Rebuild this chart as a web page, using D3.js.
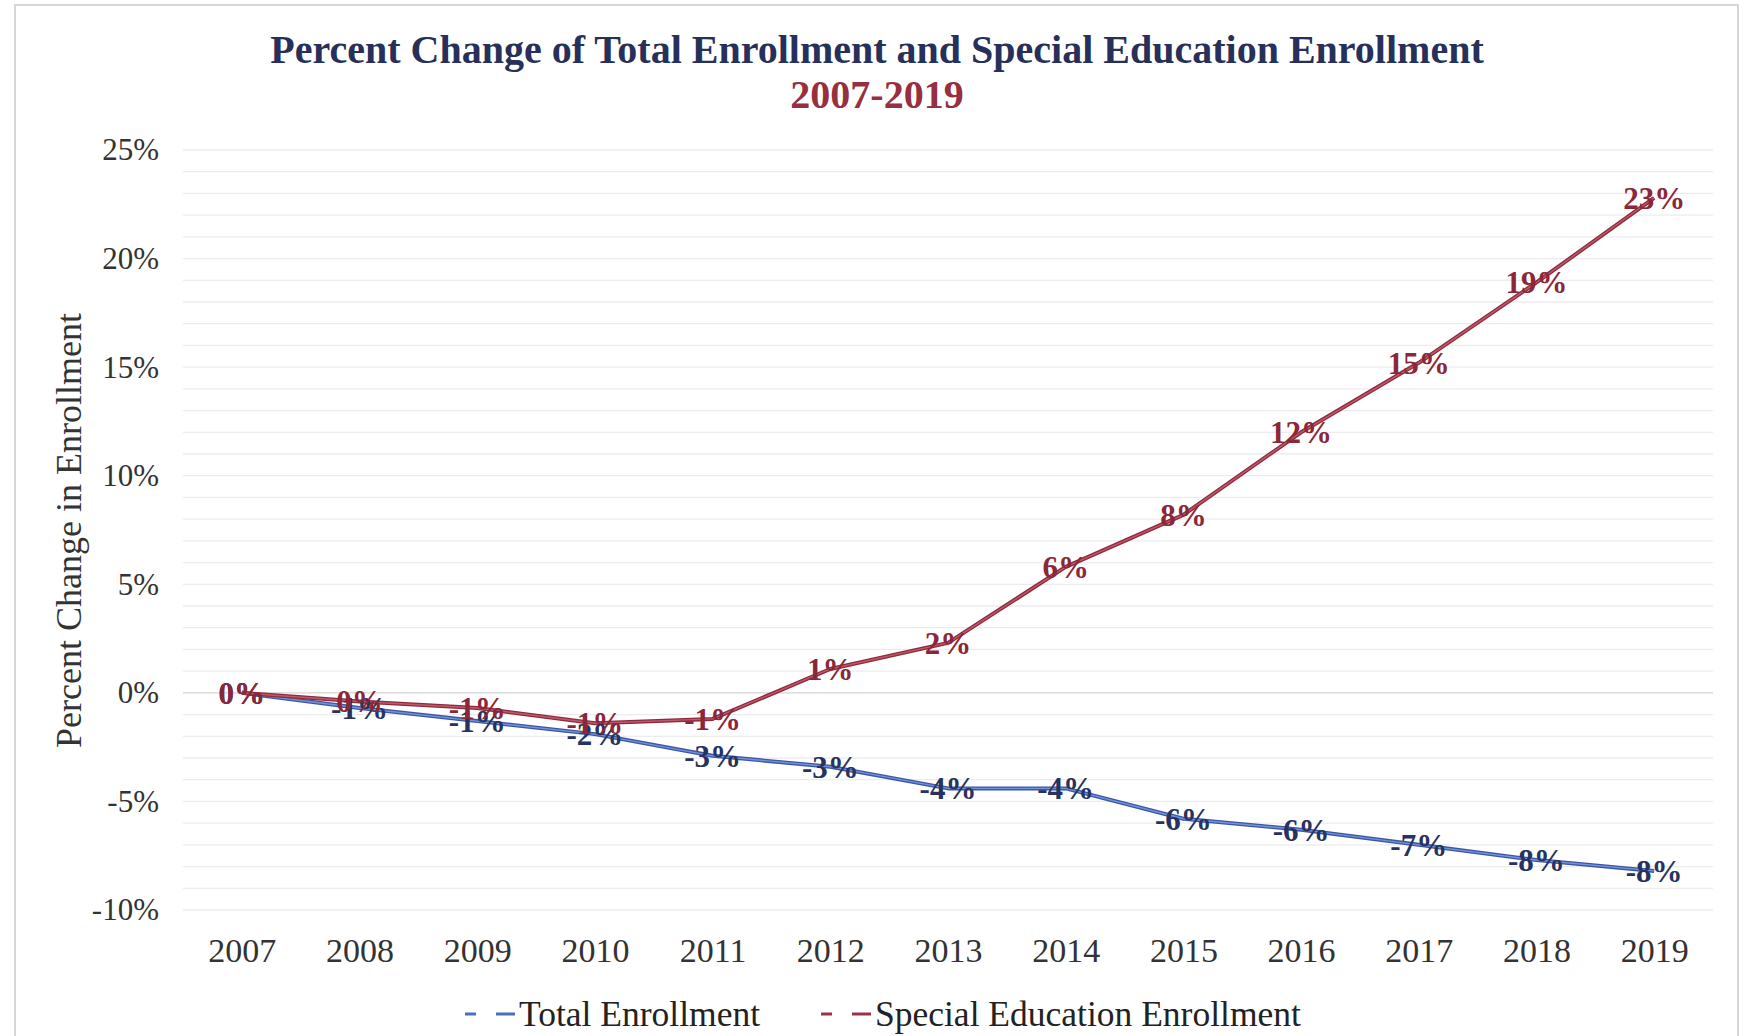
<!DOCTYPE html>
<html>
<head>
<meta charset="utf-8">
<script src="https://cdn.jsdelivr.net/npm/d3@7"></script>
<style>
  html, body { margin: 0; padding: 0; background: #ffffff; }
  svg { display: block; }
</style>
</head>
<body>
<svg id="chart" width="1744" height="1036"></svg>
<script>
// ---- data ----
const years = ["2007","2008","2009","2010","2011","2012","2013","2014","2015","2016","2017","2018","2019"];
const totalEnrollment = [0.000, -0.007, -0.013, -0.019, -0.029, -0.034, -0.044, -0.044, -0.058, -0.063, -0.070, -0.077, -0.082];
const specialEdEnrollment = [0.000, -0.004, -0.007, -0.014, -0.012, 0.011, 0.023, 0.058, 0.082, 0.120, 0.152, 0.189, 0.228];
const yTicks = [-0.10, -0.05, 0, 0.05, 0.10, 0.15, 0.20, 0.25];
const seriesNames = ["Total Enrollment", "Special Education Enrollment"];
const titleLine1 = "Percent Change of Total Enrollment and Special Education Enrollment";
const titleLine2 = "2007-2019";
const yAxisTitle = "Percent Change in Enrollment";

// ---- layout ----
const W = 1744, H = 1036;
const plot = { left: 183, right: 1713, top: 150, bottom: 910 };
const svg = d3.select("#chart");
const serif = "'Liberation Serif', 'Times New Roman', serif";

// chart frame
svg.append("rect").attr("x", 15).attr("y", 5).attr("width", 1723).attr("height", 1040)
  .attr("fill", "#fff").attr("stroke", "#d6d6d6").attr("stroke-width", 2);

const x = d3.scalePoint().domain(years).range([plot.left, plot.right]).padding(0.5);
const y = d3.scaleLinear().domain([-0.10, 0.25]).range([plot.bottom, plot.top]);

// minor gridlines (every 1%)
const minor = d3.range(-10, 26).map(v => v / 100);
svg.append("g").selectAll("line").data(minor).join("line")
  .attr("x1", plot.left).attr("x2", plot.right)
  .attr("y1", d => y(d)).attr("y2", d => y(d))
  .attr("stroke", d => Math.abs(d) < 1e-9 ? "#d4d4d4" : "#ececec")
  .attr("stroke-width", 1.3);

// y axis
const yAxis = d3.axisLeft(y).tickValues(yTicks).tickFormat(d3.format(".0%")).tickSize(0).tickPadding(0);
const gy = svg.append("g").attr("transform", `translate(${plot.left - 24},0)`).call(yAxis);
gy.select(".domain").remove();
gy.selectAll("text").attr("font-family", serif).attr("font-size", 31).attr("fill", "#333")
  .text(d => Math.round(d * 100) + "%");

// x axis
const xAxis = d3.axisBottom(x).tickSize(0).tickPadding(0);
const gx = svg.append("g").attr("transform", `translate(0,${plot.bottom + 28})`).call(xAxis);
gx.select(".domain").remove();
gx.selectAll("text").attr("font-family", serif).attr("font-size", 34).attr("fill", "#333");

// axis title
svg.append("text")
  .attr("transform", `translate(81,${(282 + 672) / 2 * 1.1122}) rotate(-90)`)
  .attr("text-anchor", "middle")
  .attr("font-family", serif).attr("font-size", 36).attr("fill", "#333")
  .text(yAxisTitle);

// title
svg.append("text").attr("x", 877).attr("y", 63).attr("text-anchor", "middle")
  .attr("font-family", serif).attr("font-weight", "bold").attr("font-size", 40).attr("fill", "#26305a")
  .text(titleLine1);
svg.append("text").attr("x", 877).attr("y", 108).attr("text-anchor", "middle")
  .attr("font-family", serif).attr("font-weight", "bold").attr("font-size", 40).attr("fill", "#962f40")
  .text(titleLine2);

// lines
const line = d3.line().x((d, i) => x(years[i])).y(d => y(d));
const series = [
  { name: seriesNames[0], values: totalEnrollment, dark: "#3a56a4", light: "#7394dc", label: "#27325e" },
  { name: seriesNames[1], values: specialEdEnrollment, dark: "#8e2a3c", light: "#c05a6a", label: "#8a2738" }
];
series.forEach(s => {
  svg.append("path").datum(s.values).attr("d", line)
    .attr("fill", "none").attr("stroke", s.dark).attr("stroke-width", 4).attr("stroke-linejoin", "round");
  svg.append("path").datum(s.values).attr("d", line)
    .attr("fill", "none").attr("stroke", s.light).attr("stroke-width", 1.4).attr("stroke-linejoin", "round");
});

// data labels (centered on points)
const fmtLabel = v => { const r = Math.round(v * 100); return (r === 0 ? 0 : r) + "%"; };
series.forEach(s => {
  svg.append("g").selectAll("text").data(s.values).join("text")
    .attr("x", (d, i) => x(years[i]))
    .attr("y", d => y(d))
    .attr("dy", "0.35em")
    .attr("text-anchor", "middle")
    .attr("font-family", serif).attr("font-weight", "bold").attr("font-size", 31)
    .attr("fill", s.label)
    .text(d => fmtLabel(d));
});

// legend
const legendY = 1014;
const legendItems = [
  { x0: 465, color: "#4a6fc0", text: seriesNames[0] },
  { x0: 821, color: "#9b3346", text: seriesNames[1] }
];
legendItems.forEach(it => {
  svg.append("line").attr("x1", it.x0).attr("x2", it.x0 + 50)
    .attr("y1", legendY).attr("y2", legendY)
    .attr("stroke", it.color).attr("stroke-width", 3).attr("stroke-dasharray", "11,20,19,20");
  svg.append("text").attr("x", it.x0 + 54).attr("y", legendY).attr("dy", "0.35em")
    .attr("font-family", serif).attr("font-size", 35.5).attr("fill", "#222")
    .text(it.text);
});
</script>
</body>
</html>
